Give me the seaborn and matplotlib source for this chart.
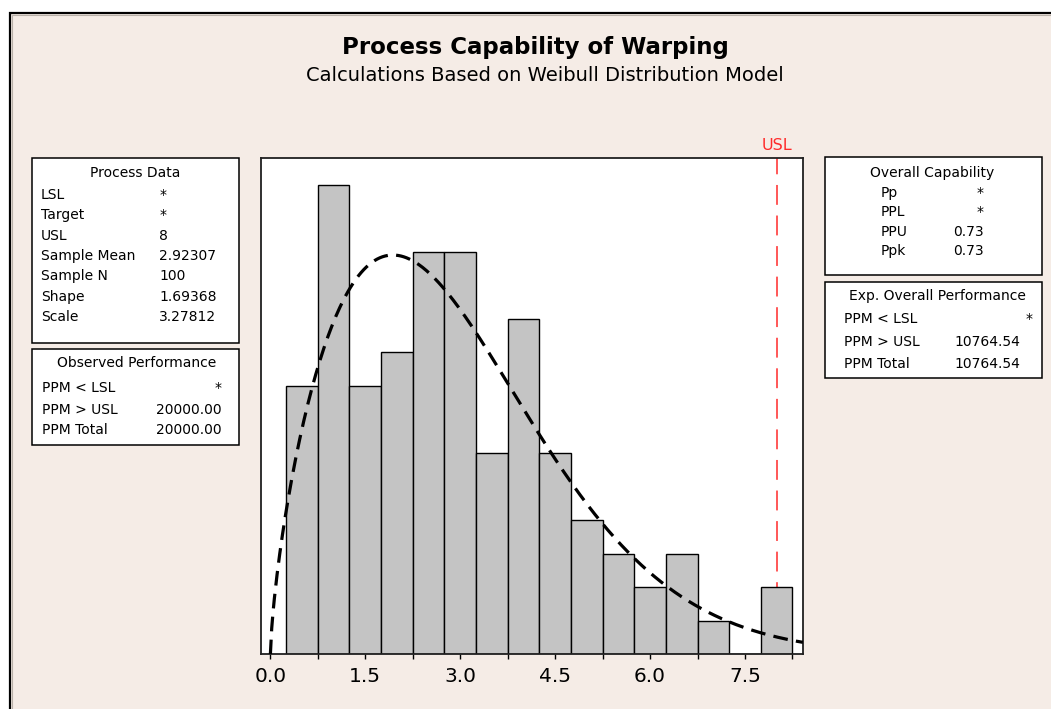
import numpy as np
import pandas as pd
import matplotlib
matplotlib.use("Agg")
import matplotlib.pyplot as plt
from matplotlib.patches import Rectangle
from matplotlib.transforms import blended_transform_factory
import seaborn as sns

# ---- data -------------------------------------------------------------
bin_edges = [0.25, 0.75, 1.25, 1.75, 2.25, 2.75, 3.25, 3.75, 4.25,
             4.75, 5.25, 5.75, 6.25, 6.75, 7.25, 7.75, 8.25]
bin_counts = [8, 14, 8, 9, 12, 12, 6, 10, 6, 4, 3, 2, 3, 1, 0, 2]

weibull_shape = 1.69368
weibull_scale = 3.27812
usl = 8

tick_values = [0.0, 1.5, 3.0, 4.5, 6.0, 7.5]
tick_labels = ["0.0", "1.5", "3.0", "4.5", "6.0", "7.5"]
minor_tick_values = [0.75, 2.25, 3.75, 5.25, 6.75, 8.25]

process_labels = ["LSL", "Target", "USL", "Sample Mean", "Sample N", "Shape", "Scale"]
process_values = ["*", "*", "8", "2.92307", "100", "1.69368", "3.27812"]

observed_labels = ["PPM < LSL", "PPM > USL", "PPM Total"]
observed_values = ["*", "20000.00", "20000.00"]

capability_labels = ["Pp", "PPL", "PPU", "Ppk"]
capability_values = ["*", "*", "0.73", "0.73"]

expected_labels = ["PPM < LSL", "PPM > USL", "PPM Total"]
expected_values = ["*", "10764.54", "10764.54"]

# ---- figure -----------------------------------------------------------
W, H = 1051, 709
BG = "#F5ECE6"
plt.rcParams["font.family"] = ["DejaVu Sans"]

fig = plt.figure(figsize=(W / 100, H / 100), dpi=100, facecolor="white")


def fx(px):
    return px / W


def fy(py):
    return 1 - py / H


# window-style frame around the graph region
fig.patches.append(Rectangle((fx(10), -0.1), 1.2, fy(13) + 0.1,
                             transform=fig.transFigure, facecolor=BG,
                             edgecolor="black", linewidth=1.6, zorder=-10))
fig.patches.append(Rectangle((fx(12), -0.1), 1.2, fy(15) + 0.1,
                             transform=fig.transFigure, facecolor="none",
                             edgecolor="#B8B0A8", linewidth=0.8, zorder=-9))


def put(x, y_cap, s, size, ha="left", color="black", weight="normal"):
    """Place text so that its capital letters are centred on y_cap (pixels from top)."""
    base = y_cap + 0.365 * size * 100 / 72
    fig.text(fx(x), fy(base), s, ha=ha, va="baseline", fontsize=size,
             color=color, fontweight=weight)


def box(x0, y0, x1, y1):
    fig.patches.append(Rectangle((fx(x0), fy(y1)), fx(x1) - fx(x0), fy(y0) - fy(y1),
                                 transform=fig.transFigure, facecolor="white",
                                 edgecolor="black", linewidth=1.1, zorder=1))


# titles
put(535, 45.5, "Process Capability of Warping", 16.5, ha="center", weight="bold")
put(545, 73.5, "Calculations Based on Weibull Distribution Model", 14, ha="center")

# ---- histogram and fitted curve ---------------------------------------
ax = fig.add_axes([fx(260.7), fy(654.3), fx(802.9) - fx(260.7), fy(157.7) - fy(654.3)])
ax.set_facecolor("white")

edges = np.array(bin_edges)
centers = (edges[:-1] + edges[1:]) / 2
counts = np.array(bin_counts)
hist_df = pd.DataFrame({"warping": centers, "count": counts})

ax.axvline(usl, color="#FF2A2A", linewidth=1.1, linestyle=(6, (13, 7)), zorder=0.5)

sns.histplot(data=hist_df, x="warping", weights="count", bins=list(bin_edges),
             stat="count", color="#C4C4C4", edgecolor="black", linewidth=1.0,
             alpha=1, ax=ax, zorder=1)

# fitted Weibull density scaled to the histogram counts
xmin, xmax = -0.153, 8.415
xs = np.linspace(0, xmax, 400)
z = xs / weibull_scale
pdf = (weibull_shape / weibull_scale) * z ** (weibull_shape - 1) * np.exp(-z ** weibull_shape)
bin_width = edges[1] - edges[0]
curve = pdf * counts.sum() * bin_width
ax.plot(xs, curve, color="black", linewidth=2.3, linestyle=(0, (4.6, 2.6)), zorder=3)

ax.set_xlim(xmin, xmax)
ax.set_ylim(0, 14.8)
ax.set_xlabel("")
ax.set_ylabel("")
ax.set_yticks([])
ax.set_xticks(tick_values)
ax.set_xticklabels(tick_labels)
ax.set_xticks(minor_tick_values, minor=True)
ax.tick_params(axis="x", which="both", direction="out", length=3.8, width=1,
               color="black", labelsize=14.5, pad=5)
for sp in ax.spines.values():
    sp.set_linewidth(1.3)
    sp.set_color("#202020")

ax.text(usl, 1.025, "USL", transform=blended_transform_factory(ax.transData, ax.transAxes),
        ha="center", va="center", color="#FF2A2A", fontsize=11.5)

# ---- summary tables ---------------------------------------------------
BODY = 10

# Process Data
box(31.7, 157.7, 239.3, 342.7)
put(135.5, 172.3, "Process Data", BODY, ha="center")
for i, (lab, val) in enumerate(zip(process_labels, process_values)):
    y = 194.0 + 20.3 * i
    put(41, y, lab, BODY)
    put(159.3, y, val, BODY)

# Observed Performance
box(31.7, 349.3, 239.3, 445)
put(136.7, 361.7, "Observed Performance", BODY, ha="center")
for y, lab, val in zip([386.7, 409.3, 429.3], observed_labels, observed_values):
    put(41.7, y, lab, BODY)
    put(221.7, y, val, BODY, ha="right")

# Overall Capability
box(825, 157.3, 1042.3, 275)
put(931.7, 172.3, "Overall Capability", BODY, ha="center")
for y, lab, val in zip([191.7, 211, 230.5, 250], capability_labels, capability_values):
    put(881, y, lab, BODY)
    put(983.5, y, val, BODY, ha="right")

# Exp. Overall Performance
box(825, 281.7, 1042.3, 377.7)
put(937, 295, "Exp. Overall Performance", BODY, ha="center")
for y, lab, val in zip([318.3, 341, 362.7], expected_labels, expected_values):
    put(844.3, y, lab, BODY)
    put(1033 if val == "*" else 1020.7, y, val, BODY, ha="right")

fig.savefig("out.png", dpi=100, facecolor=fig.get_facecolor())
